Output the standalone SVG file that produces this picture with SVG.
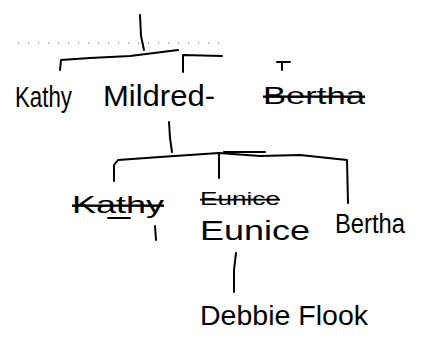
<svg xmlns="http://www.w3.org/2000/svg" width="426" height="349" viewBox="0 0 426 349">
<style>
.t{font-family:"Liberation Sans","DejaVu Sans",sans-serif;fill:#000;}
.s{text-decoration:line-through;}
.c{fill:none;stroke:#000;stroke-width:2;stroke-linecap:round;stroke-linejoin:round;}
.d{fill:none;stroke:#555;stroke-width:1;stroke-dasharray:1 9;}
</style>
<rect width="426" height="349" fill="#fff"/>
<g id="connectors">
<path class="c" d="M140 15 L141 36 L144 50"/>
<path class="d" d="M18 43 L220 43"/>
<path class="c" d="M60 70 L61 60 L90 58 L130 56 L178 50"/>
<path class="c" d="M183 72 L183 55 L222 56"/>
<path class="c" d="M277 62 L290 62 M282 62 L282 70"/>
<path class="c" d="M169 122 L170 138 L172 152"/>
<path class="c" d="M114 181 L114 165 L118 160 L160 157 L219 153 L260 156 L300 155 L347 160 L348 203"/>
<path class="c" d="M219 153 L219 178"/>
<path class="c" d="M224 152 L265 152"/>
<path class="c" d="M155 226 L156 240"/>
<path class="c" d="M236 253 L234 270 L234 292"/>
</g>
<g id="kathy"><text class="t" x="15" y="107" font-size="30" textLength="57" lengthAdjust="spacingAndGlyphs">Kathy</text></g>
<g id="mildred"><text class="t" x="103" y="106" font-size="29" textLength="112" lengthAdjust="spacingAndGlyphs">Mildred-</text></g>
<g id="bertha-struck"><text class="t s" x="263" y="104" font-size="24" textLength="102" lengthAdjust="spacingAndGlyphs">Bertha</text></g>
<g id="kathy-struck"><text class="t s" x="72" y="213" font-size="24" textLength="92" lengthAdjust="spacingAndGlyphs">Kathy</text>
<path class="c" d="M108 218 L130 218"/></g>
<g id="eunice-struck"><text class="t s" x="200" y="205" font-size="18" textLength="80" lengthAdjust="spacingAndGlyphs">Eunice</text></g>
<g id="eunice"><text class="t" x="200" y="240" font-size="28" textLength="110" lengthAdjust="spacingAndGlyphs">Eunice</text></g>
<g id="bertha"><text class="t" x="335" y="233" font-size="27" textLength="70" lengthAdjust="spacingAndGlyphs">Bertha</text></g>
<g id="debbie"><text class="t" x="200" y="325" font-size="27" textLength="168" lengthAdjust="spacingAndGlyphs">Debbie Flook</text></g>
</svg>
